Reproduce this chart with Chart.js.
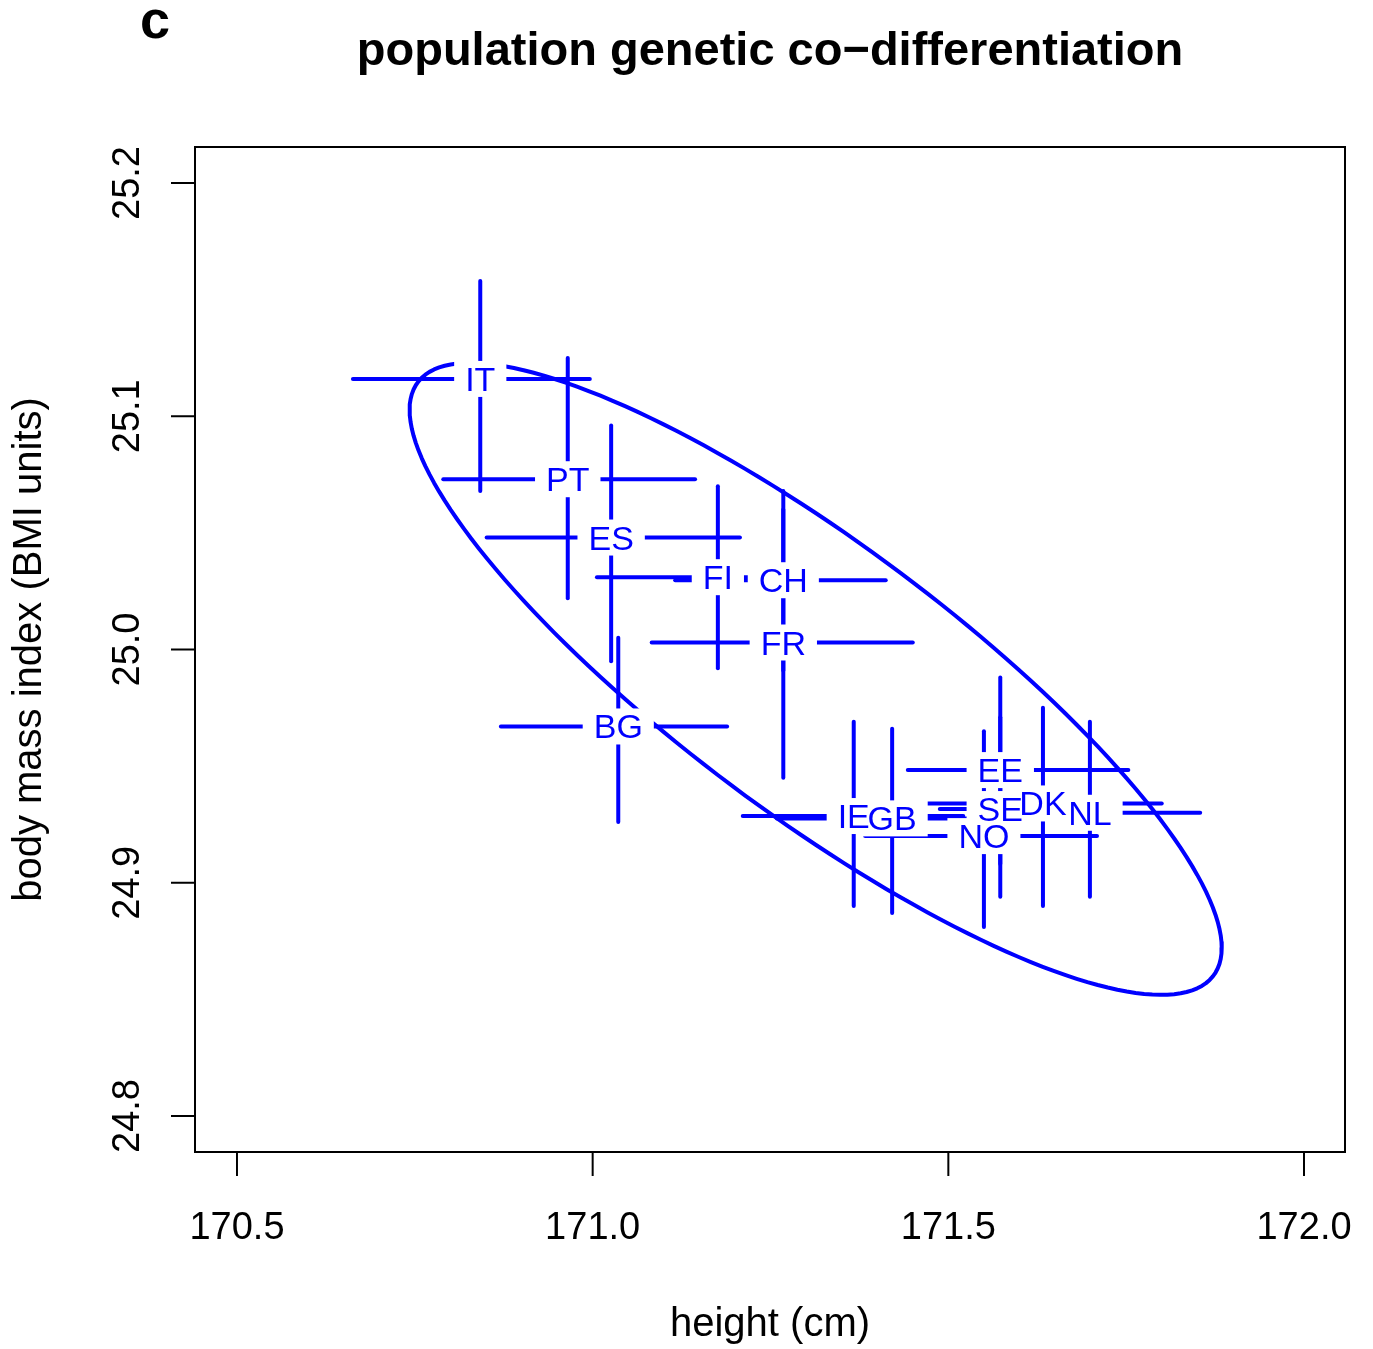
<!DOCTYPE html>
<html>
<head>
<meta charset="utf-8">
<script src="https://cdn.jsdelivr.net/npm/chart.js@4.4.0/dist/chart.umd.min.js"></script>
<style>
  html, body { margin: 0; padding: 0; background: #fff; }
</style>
</head>
<body>
<canvas id="myChart" width="1373" height="1349"></canvas>
<script>
// country means with their error intervals (height in cm, BMI units)
const countries  = ['IT', 'PT', 'ES', 'FI', 'CH', 'FR', 'BG', 'IE', 'GB', 'EE', 'SE', 'DK', 'NL', 'NO'];
const heightMid  = [170.842, 170.965, 171.026, 171.176, 171.268, 171.268, 171.036, 171.367, 171.421, 171.573, 171.573, 171.633, 171.699, 171.550];
const heightLow  = [170.663, 170.790, 170.851, 171.006, 171.116, 171.083, 170.871, 171.211, 171.259, 171.443, 171.488, 171.467, 171.545, 171.383];
const heightHigh = [170.996, 171.144, 171.207, 171.249, 171.412, 171.450, 171.189, 171.521, 171.582, 171.753, 171.657, 171.800, 171.854, 171.709];
const bmiMid     = [25.116, 25.073, 25.048, 25.031, 25.0297, 25.003, 24.967, 24.9286, 24.9276, 24.9483, 24.9316, 24.934, 24.930, 24.920];
const bmiLow     = [25.068, 25.022, 24.995, 24.992, 24.991, 24.945, 24.926, 24.890, 24.887, 24.908, 24.894, 24.890, 24.894, 24.881];
const bmiHigh    = [25.158, 25.125, 25.096, 25.070, 25.068, 25.060, 25.005, 24.969, 24.966, 24.988, 24.971, 24.975, 24.969, 24.965];

const xTicks = [170.5, 171.0, 171.5, 172.0];
const xTickLabels = ['170.5', '171.0', '171.5', '172.0'];
const yTicks = [24.8, 24.9, 25.0, 25.1, 25.2];
const yTickLabels = ['24.8', '24.9', '25.0', '25.1', '25.2'];

// co-differentiation ellipse: centre and two conjugate half axes
const ellipseCenter = [171.3135, 24.9874];
const ellipseAxisA = [0.5708, -0.1153];
const ellipseAxisB = [0, -0.0711];

const BLUE = '#0000ff';
const FONT = '"Liberation Sans", Arial, Helvetica, sans-serif';

const datasets = [];
countries.forEach(function (c, i) {
  datasets.push({
    label: c + ' height',
    data: [{ x: heightLow[i], y: bmiMid[i] }, { x: heightHigh[i], y: bmiMid[i] }]
  });
  datasets.push({
    label: c + ' bmi',
    data: [{ x: heightMid[i], y: bmiLow[i] }, { x: heightMid[i], y: bmiHigh[i] }]
  });
});

const ellipsePts = [];
for (let k = 0; k <= 180; k++) {
  const t = 2 * Math.PI * k / 180;
  ellipsePts.push({
    x: ellipseCenter[0] + ellipseAxisA[0] * Math.cos(t) + ellipseAxisB[0] * Math.sin(t),
    y: ellipseCenter[1] + ellipseAxisA[1] * Math.cos(t) + ellipseAxisB[1] * Math.sin(t)
  });
}
datasets.push({ label: 'ellipse', data: ellipsePts, borderJoinStyle: 'round' });

datasets.forEach(function (d) {
  d.showLine = true;
  d.borderColor = BLUE;
  d.borderWidth = 4;
  d.pointRadius = 0;
  d.borderCapStyle = 'round';
  d.tension = 0;
});

// R style frame, axes, titles and boxed labels
const rPlot = {
  id: 'rPlot',
  beforeDraw(chart) {
    const ctx = chart.ctx;
    ctx.save();
    ctx.fillStyle = '#fff';
    ctx.fillRect(0, 0, chart.width, chart.height);
    ctx.restore();
  },
  afterDatasetsDraw(chart) {
    const ctx = chart.ctx;
    const a = chart.chartArea;
    const xs = chart.scales.x, ys = chart.scales.y;
    ctx.save();

    // labels: white boxes first, then the text
    ctx.font = '34px ' + FONT;
    ctx.fillStyle = '#fff';
    countries.forEach(function (c, i) {
      const px = xs.getPixelForValue(heightMid[i]);
      const py = ys.getPixelForValue(bmiMid[i]);
      const w = ctx.measureText(c).width;
      ctx.fillRect(px - w / 2 - 11, py - 18, w + 22, 36);
    });
    ctx.fillStyle = BLUE;
    ctx.textAlign = 'center';
    ctx.textBaseline = 'alphabetic';
    countries.forEach(function (c, i) {
      const px = xs.getPixelForValue(heightMid[i]);
      const py = ys.getPixelForValue(bmiMid[i]);
      ctx.fillText(c, px, py + 12);
    });

    // frame
    ctx.strokeStyle = '#000';
    ctx.lineWidth = 2;
    ctx.strokeRect(a.left, a.top, a.right - a.left, a.bottom - a.top);

    // x axis
    ctx.fillStyle = '#000';
    ctx.font = '38px ' + FONT;
    xTicks.forEach(function (v, i) {
      const px = xs.getPixelForValue(v);
      ctx.beginPath();
      ctx.moveTo(px, a.bottom);
      ctx.lineTo(px, a.bottom + 24);
      ctx.stroke();
      ctx.fillText(xTickLabels[i], px, 1239);
    });

    // y axis
    yTicks.forEach(function (v, i) {
      const py = ys.getPixelForValue(v);
      ctx.beginPath();
      ctx.moveTo(a.left, py);
      ctx.lineTo(a.left - 24, py);
      ctx.stroke();
      ctx.save();
      ctx.translate(139, py);
      ctx.rotate(-Math.PI / 2);
      ctx.fillText(yTickLabels[i], 0, 0);
      ctx.restore();
    });

    // axis titles
    const cx = (a.left + a.right) / 2;
    const cy = (a.top + a.bottom) / 2;
    ctx.font = '40px ' + FONT;
    ctx.fillText('height (cm)', cx, 1336);
    ctx.save();
    ctx.translate(41, cy);
    ctx.rotate(-Math.PI / 2);
    ctx.fillText('body mass index (BMI units)', 0, 0);
    ctx.restore();

    // main title and panel letter
    ctx.font = 'bold 47px ' + FONT;
    ctx.fillText('population genetic co\u2212differentiation', cx, 65);
    ctx.font = 'bold 54px ' + FONT;
    ctx.fillText('c', 155, 38);

    ctx.restore();
  }
};

const ctx = document.getElementById('myChart');

new Chart(ctx, {
  type: 'scatter',
  data: { datasets: datasets },
  options: {
    responsive: false,
    animation: false,
    devicePixelRatio: 1,
    layout: { padding: { left: 195, right: 28, top: 147, bottom: 197 } },
    plugins: { legend: { display: false }, tooltip: { enabled: false } },
    scales: {
      x: { type: 'linear', min: 170.441, max: 172.0576, display: false },
      y: { type: 'linear', min: 24.78457, max: 25.21543, display: false }
    }
  },
  plugins: [rPlot]
});
</script>
</body>
</html>
